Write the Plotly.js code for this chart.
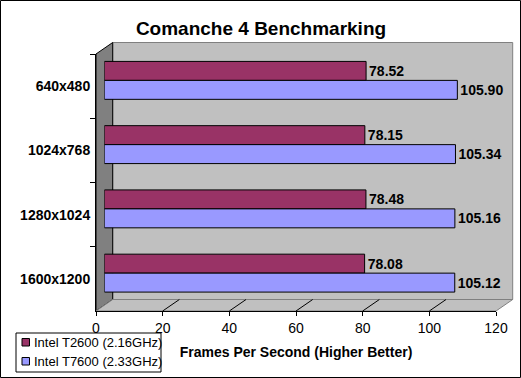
<!DOCTYPE html>
<html>
<head>
<meta charset="utf-8">
<script src="https://cdn.plot.ly/plotly-3.0.1.min.js"></script>
<style>html,body{margin:0;padding:0;background:#fff;}#chart{width:521px;height:378px;}</style>
</head>
<body>
<div id="chart"></div>
<script>
// ---- data ----
const categories = ['640x480', '1024x768', '1280x1024', '1600x1200'];
const seriesNames = ['Intel T2600 (2.16GHz)', 'Intel T7600 (2.33GHz)'];
const t2600 = [78.52, 78.15, 78.48, 78.08];
const t7600 = [105.90, 105.34, 105.16, 105.12];
const xTicks = [0, 20, 40, 60, 80, 100, 120];
const chartTitle = 'Comanche 4 Benchmarking';
const xTitle = 'Frames Per Second (Higher Better)';

// ---- styling ----
const W = 521, H = 378;
const FONT = 'Liberation Sans, Arial, sans-serif';
const colors = ['#993366', '#9999FF'];
const px = x => x / W;
const py = y => 1 - y / H;

// 3D geometry (pixels)
const front = {x0: 96, x1: 496, y0: 54, y1: 311};
const dx = 16.7, dy = 11.5;
const back = {x0: front.x0 + dx, x1: front.x1 + dx, y0: front.y0 - dy, y1: front.y1 - dy};
const mid = {x0: front.x0 + dx / 2, x1: front.x1 + dx / 2, y0: front.y0 - dy / 2, y1: front.y1 - dy / 2};
const xMax = xTicks[xTicks.length - 1];
const scale = (front.x1 - front.x0) / xMax;
const catRange = [categories.length - 0.5, -0.5];

const traces = [
  {
    type: 'bar', orientation: 'h', name: seriesNames[0],
    x: t2600, y: categories, xaxis: 'x3', yaxis: 'y3',
    marker: {color: colors[0], line: {color: '#000', width: 1}},
    texttemplate: '%{x:.2f}', textposition: 'outside', constraintext: 'none', cliponaxis: false,
    textfont: {family: FONT, size: 14, color: '#000', weight: 'bold'},
    showlegend: false, hoverinfo: 'x+name'
  },
  {
    type: 'bar', orientation: 'h', name: seriesNames[1],
    x: t7600, y: categories, xaxis: 'x3', yaxis: 'y3',
    marker: {color: colors[1], line: {color: '#000', width: 1}},
    texttemplate: '%{x:.2f}', textposition: 'outside', constraintext: 'none', cliponaxis: false,
    textfont: {family: FONT, size: 14, color: '#000', weight: 'bold'},
    showlegend: false, hoverinfo: 'x+name'
  },
  // invisible carrier for the front category axis
  {
    type: 'scatter', mode: 'markers', x: t2600, y: categories, xaxis: 'x', yaxis: 'y',
    marker: {opacity: 0}, showlegend: false, hoverinfo: 'skip'
  }
];

const shapes = [];
// back wall
shapes.push({type: 'rect', xref: 'paper', yref: 'paper', layer: 'below',
  x0: px(back.x0), x1: px(back.x1), y0: py(back.y1), y1: py(back.y0),
  fillcolor: '#C0C0C0', line: {color: '#808080', width: 1}});
// left wall
shapes.push({type: 'path', xref: 'paper', yref: 'paper', layer: 'below',
  path: `M${px(front.x0)},${py(front.y0)} L${px(back.x0)},${py(back.y0)} L${px(back.x0)},${py(back.y1)} L${px(front.x0)},${py(front.y1)} Z`,
  fillcolor: '#808080', line: {color: '#000', width: 1}});
// floor
shapes.push({type: 'path', xref: 'paper', yref: 'paper', layer: 'below',
  path: `M${px(front.x0)},${py(front.y1)} L${px(back.x0)},${py(back.y1)} L${px(back.x1)},${py(back.y1)} L${px(front.x1)},${py(front.y1)} Z`,
  fillcolor: '#C0C0C0', line: {color: '#808080', width: 1}});
// floor grid diagonals
xTicks.slice(1, -1).forEach(v => {
  shapes.push({type: 'line', xref: 'paper', yref: 'paper', layer: 'below',
    x0: px(front.x0 + v * scale), y0: py(front.y1), x1: px(back.x0 + v * scale), y1: py(back.y1),
    line: {color: '#000', width: 1}});
});
// outer frame
shapes.push({type: 'rect', xref: 'paper', yref: 'paper', layer: 'above',
  x0: px(0.5), x1: px(W - 0.5), y0: py(H - 0.5), y1: py(0.5),
  line: {color: '#000', width: 1}});
// legend box and swatches
const leg = {x0: 16, x1: 161, y0: 333, y1: 372, rows: [342, 361]};
shapes.push({type: 'rect', xref: 'paper', yref: 'paper', layer: 'above',
  x0: px(leg.x0), x1: px(leg.x1), y0: py(leg.y1), y1: py(leg.y0),
  fillcolor: '#fff', line: {color: '#000', width: 1}});
const annotations = [];
seriesNames.forEach((n, i) => {
  const cy = leg.rows[i];
  shapes.push({type: 'rect', xref: 'paper', yref: 'paper', layer: 'above',
    x0: px(22), x1: px(29.5), y0: py(cy + 4), y1: py(cy - 3.5),
    fillcolor: colors[i], line: {color: '#000', width: 1}});
  annotations.push({xref: 'paper', yref: 'paper', x: px(32), y: py(cy), xanchor: 'left', yanchor: 'middle',
    text: n, showarrow: false, font: {family: FONT, size: 13, color: '#000'}});
});

const layout = {
  width: W, height: H,
  margin: {l: 0, r: 0, t: 0, b: 0},
  paper_bgcolor: '#fff', plot_bgcolor: 'rgba(0,0,0,0)',
  font: {family: FONT, color: '#000'},
  title: {text: chartTitle, x: px(261), xanchor: 'center', y: py(28), yanchor: 'middle',
    font: {family: FONT, size: 19, weight: 'bold', color: '#000'}},
  showlegend: false,
  barmode: 'group', bargap: 0.41, bargroupgap: 0,
  xaxis: {domain: [px(front.x0), px(front.x1)], anchor: 'y', range: [0, xMax],
    tickvals: xTicks, ticks: 'outside', ticklen: 4, tickcolor: '#000',
    showline: true, linecolor: '#000', linewidth: 1, showgrid: false, zeroline: false,
    tickfont: {family: FONT, size: 14, color: '#000'},
    title: {text: xTitle, standoff: 12, font: {family: FONT, size: 14, weight: 'bold', color: '#000'}},
    fixedrange: true},
  yaxis: {domain: [py(front.y1), py(front.y0)], anchor: 'x', type: 'category',
    categoryorder: 'array', categoryarray: categories, autorange: false, range: catRange,
    ticks: 'outside', tickson: 'boundaries', ticklen: 5, tickcolor: '#000',
    showline: true, linecolor: '#000', linewidth: 1, showgrid: false, zeroline: false,
    tickfont: {family: FONT, size: 14, weight: 'bold', color: '#000'}, ticklabelstandoff: 2,
    fixedrange: true},
  xaxis2: {domain: [px(back.x0), px(back.x1)], anchor: 'y2', range: [0, xMax],
    tickvals: xTicks.slice(1, -1), showticklabels: false, ticks: '',
    showgrid: true, gridcolor: '#000', gridwidth: 1, zeroline: false, showline: false, fixedrange: true},
  yaxis2: {domain: [py(back.y1), py(back.y0)], anchor: 'x2', range: [0, 1],
    showgrid: false, showticklabels: false, ticks: '', zeroline: false, showline: false, fixedrange: true},
  xaxis3: {domain: [px(mid.x0), px(mid.x1)], anchor: 'y3', range: [0, xMax], visible: false, fixedrange: true},
  yaxis3: {domain: [py(mid.y1), py(mid.y0)], anchor: 'x3', type: 'category',
    categoryorder: 'array', categoryarray: categories, autorange: false, range: catRange,
    visible: false, fixedrange: true},
  shapes: shapes,
  annotations: annotations
};

Plotly.newPlot('chart', traces, layout, {displayModeBar: false, staticPlot: true});
</script>
</body>
</html>
